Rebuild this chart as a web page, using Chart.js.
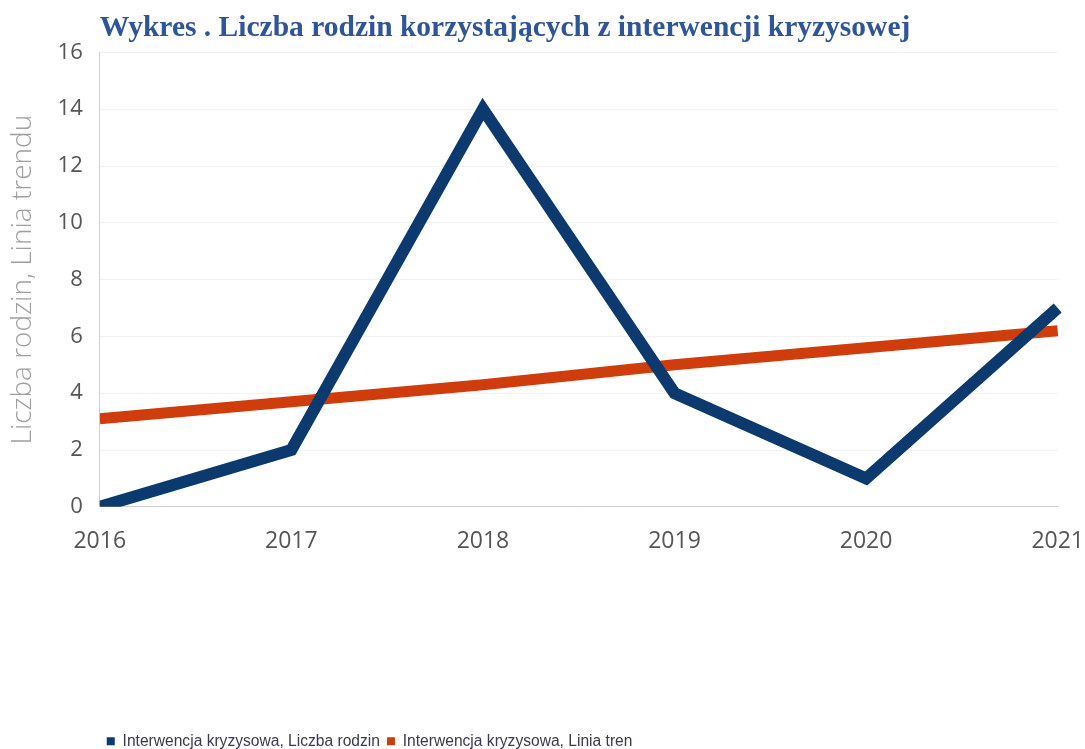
<!DOCTYPE html>
<html>
<head>
<meta charset="utf-8">
<script src="https://cdn.jsdelivr.net/npm/chart.js@4"></script>
<style>
  body { margin: 0; background: #fff; }
  #wrap { width: 1085px; height: 749px; position: relative; }
</style>
</head>
<body>
<div id="wrap"><canvas id="lineChart"></canvas></div>
<script>
// dane
const years = ['2016', '2017', '2018', '2019', '2020', '2021'];
const families = [0, 2, 14, 4, 1, 7];
const trend = [3.1, 3.7, 4.3, 5.0, 5.6, 6.2];
const yTicks = [0, 2, 4, 6, 8, 10, 12, 14, 16];

const ctx = document.getElementById('lineChart').getContext('2d');
const chart = new Chart(ctx, {
  type: 'line',
  data: {
    labels: years,
    datasets: [
      {
        label: 'Interwencja kryzysowa, Liczba rodzin',
        data: families,
        borderColor: '#0d3a6e',
        backgroundColor: '#0d3a6e',
        borderWidth: 12,
        pointRadius: 0,
        tension: 0,
        borderJoinStyle: 'miter',
        borderCapStyle: 'butt',
        clip: { left: 0, top: 10, right: 4, bottom: 0 },
        order: 1
      },
      {
        label: 'Interwencja kryzysowa, Linia tren',
        data: trend,
        borderColor: '#d03d0c',
        backgroundColor: '#d03d0c',
        borderWidth: 11,
        pointRadius: 0,
        tension: 0,
        borderCapStyle: 'butt',
        clip: { left: 0, top: 10, right: 4, bottom: 0 },
        order: 2
      }
    ]
  },
  options: {
    responsive: true,
    maintainAspectRatio: false,
    animation: false,
    layout: { padding: { left: 0, right: 0, top: 0, bottom: -10 } },
    plugins: {
      title: {
        display: true,
        text: 'Wykres . Liczba rodzin korzystających z interwencji kryzysowej',
        color: '#2f5597',
        align: 'start',
        fullSize: false,
        font: { family: '"Liberation Serif", "Times New Roman", serif', size: 29.5, weight: 'bold', lineHeight: 1.2 },
        padding: { top: 11, bottom: 6 }
      },
      legend: {
        display: true,
        position: 'bottom',
        align: 'start',
        fullSize: false,
        labels: {
          color: '#3a3a50',
          boxWidth: 8,
          boxHeight: 8,
          padding: 7,
          font: { family: '"Liberation Sans", Arial, sans-serif', size: 15.6 },
          generateLabels: function(c) {
            const items = Chart.defaults.plugins.legend.labels.generateLabels(c);
            items.forEach(it => { it.lineWidth = 0; });
            return items;
          }
        }
      },
      tooltip: { enabled: false }
    },
    scales: {
      x: {
        // niewidoczne kreski podziałki robią odstęp etykiet od osi
        grid: { display: true, color: 'transparent', drawTicks: true, tickLength: 20, tickColor: 'transparent' },
        border: { display: true, color: '#cfcfcf', width: 1 },
        ticks: {
          color: '#555',
          padding: 1,
          maxRotation: 0,
          font: { family: '"Open Sans", sans-serif', size: 23 }
        },
        afterFit: function(scale) { scale.height += 170; }
      },
      y: {
        min: 0,
        max: 16,
        afterBuildTicks: function(scale) {
          scale.ticks = yTicks.map(v => ({ value: v }));
        },
        grid: { color: '#f2f2f2', drawTicks: false },
        border: { display: true, color: '#cfcfcf', width: 1 },
        ticks: {
          color: '#555',
          padding: 17,
          font: { family: '"Open Sans", sans-serif', size: 22 }
        },
        title: {
          display: true,
          text: 'Liczba rodzin, Linia trendu',
          color: '#a0a0a0',
          padding: { top: 6, bottom: 1 },
          font: { family: '"Open Sans", sans-serif', size: 28, weight: 300 }
        }
      }
    }
  }
});
</script>
</body>
</html>
